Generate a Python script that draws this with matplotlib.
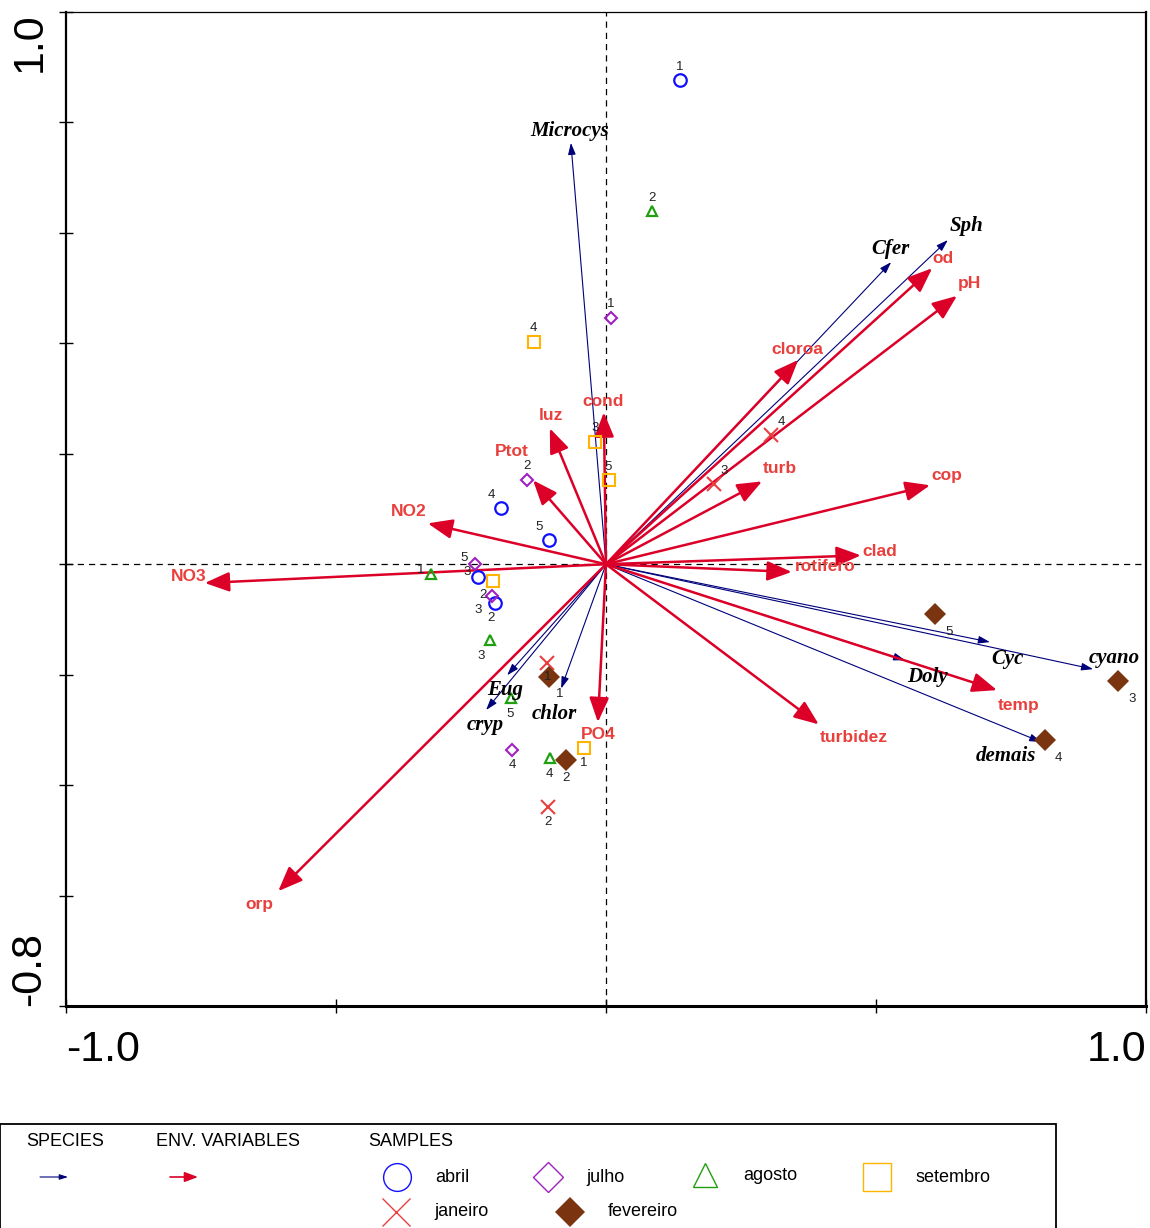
import numpy as np
import matplotlib.pyplot as plt
from matplotlib.patches import FancyArrowPatch, Rectangle
from matplotlib.lines import Line2D

# --- Datos (biplot CCA) ---
env_names = ['NO3', 'NO2', 'Ptot', 'luz', 'cond', 'cloroa', 'od', 'pH', 'turb',
             'cop', 'clad', 'rotifero', 'temp', 'turbidez', 'PO4', 'orp']
env_x = [-0.743, -0.330, -0.135, -0.104, -0.004, 0.356, 0.604, 0.650, 0.289,
         0.600, 0.472, 0.344, 0.724, 0.394, -0.015, -0.607]
env_y = [-0.034, 0.074, 0.152, 0.246, 0.275, 0.370, 0.536, 0.486, 0.150,
         0.143, 0.016, -0.014, -0.228, -0.290, -0.286, -0.592]

spp_names = ['Microcys', 'Cfer', 'Sph', 'Cyc', 'cyano', 'Doly', 'demais',
             'Eug', 'cryp', 'chlor']
spp_x = [-0.065, 0.528, 0.633, 0.711, 0.902, 0.554, 0.806, -0.183, -0.222, -0.083]
spp_y = [0.763, 0.547, 0.587, -0.141, -0.190, -0.174, -0.322, -0.201, -0.264, -0.225]

abril_id = ['1', '4', '5', '3', '2']
abril_x = [0.137, -0.194, -0.106, -0.237, -0.206]
abril_y = [0.877, 0.101, 0.043, -0.024, -0.071]

julho_id = ['1', '2', '5', '3', '4']
julho_x = [0.009, -0.146, -0.243, -0.211, -0.174]
julho_y = [0.446, 0.152, 0.000, -0.057, -0.337]

agosto_id = ['2', '1', '3', '5', '4']
agosto_x = [0.085, -0.324, -0.215, -0.176, -0.104]
agosto_y = [0.639, -0.018, -0.138, -0.243, -0.351]

setembro_id = ['4', '3', '5', '2', '1']
setembro_x = [-0.133, -0.020, 0.006, -0.209, -0.041]
setembro_y = [0.402, 0.221, 0.152, -0.031, -0.333]

janeiro_id = ['4', '3', '1', '2']
janeiro_x = [0.306, 0.200, -0.109, -0.107]
janeiro_y = [0.234, 0.145, -0.178, -0.440]

fevereiro_id = ['5', '3', '4', '1', '2']
fevereiro_x = [0.609, 0.948, 0.813, -0.106, -0.074]
fevereiro_y = [-0.091, -0.212, -0.319, -0.205, -0.355]

# --- Estilo ---
RED_ARROW = '#dc0028'
RED_TEXT = '#e8403c'
NAVY = '#00007a'

# desplazamientos de etiquetas (pixeles)
env_off = [(-16, 6), (-19, 12), (-21, 29), (1, 13), (-1, 11), (-1, 10), (11, 10),
           (12, 12), (18, 13), (17, 10), (19, 4), (33, 5), (22, -15), (35, -13),
           (0, -12), (-19, -13)]
spp_off = [(-1, 12), (-1, 13), (19, 14), (18, -17), (21, 11), (22, -17),
           (-35, -14), (-2, -15), (-1, -15), (-7, -26)]

fig = plt.figure(figsize=(11.5, 12.28), dpi=100)
ax = fig.add_axes([66 / 1150, 1 - 1006 / 1228, 1080 / 1150, 994 / 1228])
ax.set_xlim(-1.0, 1.0)
ax.set_ylim(-0.8, 1.0)

ax.axhline(0, color='k', lw=0.9, ls=(0, (5, 4)), zorder=1)
ax.axvline(0, color='k', lw=0.9, ls=(0, (5, 4)), zorder=1)

# flechas de especies
for name, x, y, off in zip(spp_names, spp_x, spp_y, spp_off):
    ax.add_patch(FancyArrowPatch((0, 0), (x, y), arrowstyle='-|>,head_length=7,head_width=2.3',
                                 color=NAVY, lw=0.8, shrinkA=0, shrinkB=0, zorder=2))
    ax.annotate(name, (x, y), xytext=off, textcoords='offset pixels', ha='center',
                va='center', fontsize=15, family='Liberation Serif', style='italic',
                weight='bold', color='k', zorder=6)

# flechas ambientales
for name, x, y, off in zip(env_names, env_x, env_y, env_off):
    ax.add_patch(FancyArrowPatch((0, 0), (x, y), arrowstyle='-|>,head_length=15,head_width=6',
                                 color=RED_ARROW, lw=1.8, shrinkA=0, shrinkB=0, zorder=3))
    ax.annotate(name, (x, y), xytext=off, textcoords='offset pixels', ha='center',
                va='center', fontsize=12.5, family='Liberation Sans', weight='bold',
                color=RED_TEXT, zorder=6)

# muestras
groups = [
    ('abril', abril_id, abril_x, abril_y, dict(marker='o', mfc='none', mec='#1010ff', ms=9, mew=1.6)),
    ('julho', julho_id, julho_x, julho_y, dict(marker='D', mfc='none', mec='#a020c0', ms=6.5, mew=1.5)),
    ('agosto', agosto_id, agosto_x, agosto_y, dict(marker='^', mfc='none', mec='#20a010', ms=7.5, mew=1.6)),
    ('setembro', setembro_id, setembro_x, setembro_y, dict(marker='s', mfc='none', mec='#ffb400', ms=8.5, mew=1.5)),
    ('janeiro', janeiro_id, janeiro_x, janeiro_y, dict(marker='x', mfc='none', mec='#e84040', ms=9.5, mew=1.5)),
    ('fevereiro', fevereiro_id, fevereiro_x, fevereiro_y, dict(marker='D', mfc='#7a3510', mec='#7a3510', ms=11, mew=0)),
]
sample_off = {
    'abril': [(0, 13), (-10, 13), (-10, 13), (-11, 5), (-4, -15)],
    'julho': [(0, 14), (0, 14), (-11, 6), (-14, -14), (0, -15)],
    'agosto': [(0, 13), (-10, 4), (-9, -16), (-1, -16), (0, -16)],
    'setembro': [(-1, 14), (0, 14), (-1, 13), (-10, -14), (0, -15)],
    'janeiro': [(10, 13), (10, 13), (1, -14), (0, -15)],
    'fevereiro': [(14, -18), (14, -18), (13, -18), (11, -17), (0, -18)],
}
for name, ids, xs, ys, st in groups:
    ax.plot(xs, ys, ls='none', zorder=5, **st)
    for i, x, y, off in zip(ids, xs, ys, sample_off[name]):
        ax.annotate(i, (x, y), xytext=off, textcoords='offset pixels', ha='center',
                    va='center', fontsize=9.5, family='Liberation Sans', color='#222222', zorder=6)

# ejes
ax.set_xticks([-1.0, -0.5, 0.0, 0.5, 1.0])
ax.set_xticklabels(['-1.0', '', '', '', '1.0'])
ax.set_yticks(np.round(np.arange(-0.8, 1.01, 0.2), 1))
ax.set_yticklabels(['-0.8'] + [''] * 8 + ['1.0'], rotation=90)
ax.tick_params(direction='inout', length=10, width=1, labelsize=31)
ax.tick_params(axis='x', pad=12)
ax.tick_params(axis='y', pad=7)
for lab in ax.get_xticklabels() + ax.get_yticklabels():
    lab.set_family('Liberation Sans')
ax.get_xticklabels()[0].set_ha('left')
ax.get_xticklabels()[-1].set_ha('right')
ax.get_yticklabels()[0].set_va('bottom')
ax.get_yticklabels()[-1].set_va('top')
ax.spines['left'].set_linewidth(1.6)
ax.spines['bottom'].set_linewidth(2.2)
ax.spines['top'].set_linewidth(0.9)
ax.spines['right'].set_linewidth(1.6)

# --- Leyenda ---
fig.add_artist(Rectangle((0.0, -0.05), 1056 / 1150, 1.05 - 1124 / 1228, transform=fig.transFigure,
                         fill=False, ec='k', lw=1.3))
lfont = dict(family='Liberation Sans', fontsize=13, va='center')
def fx(px): return px / 1150
def fy(py): return 1 - py / 1228
fig.text(fx(26), fy(1141), 'SPECIES', **lfont)
fig.text(fx(156), fy(1141), 'ENV. VARIABLES', **lfont)
fig.text(fx(368), fy(1141), 'SAMPLES', **lfont)
fig.add_artist(FancyArrowPatch((fx(40), fy(1177)), (fx(68), fy(1177)), transform=fig.transFigure,
                               arrowstyle='-|>,head_length=5,head_width=1.6', color=NAVY, lw=0.8,
                               shrinkA=0, shrinkB=0))
fig.add_artist(FancyArrowPatch((fx(170), fy(1177)), (fx(198), fy(1177)), transform=fig.transFigure,
                               arrowstyle='-|>,head_length=8,head_width=3', color=RED_ARROW, lw=1.2,
                               shrinkA=0, shrinkB=0))
leg_pos = {'abril': (397, 1177), 'julho': (548, 1177), 'agosto': (705, 1175),
           'setembro': (877, 1177), 'janeiro': (396, 1212), 'fevereiro': (570, 1212)}
leg_style = {
    'abril': dict(marker='o', mfc='none', mec='#1010ff', ms=20, mew=1.0),
    'julho': dict(marker='D', mfc='none', mec='#a020c0', ms=15, mew=1.0),
    'agosto': dict(marker='^', mfc='none', mec='#20a010', ms=17, mew=1.0),
    'setembro': dict(marker='s', mfc='none', mec='#ffb400', ms=20, mew=1.0),
    'janeiro': dict(marker='x', mfc='none', mec='#e84040', ms=20, mew=1.0),
    'fevereiro': dict(marker='D', mfc='#7a3510', mec='#7a3510', ms=15, mew=0),
}
for name, (px, py) in leg_pos.items():
    fig.add_artist(Line2D([fx(px)], [fy(py)], transform=fig.transFigure, ls='none', **leg_style[name]))
    fig.text(fx(px + 38), fy(py), name, **lfont)

fig.savefig('out.png', dpi=100)
